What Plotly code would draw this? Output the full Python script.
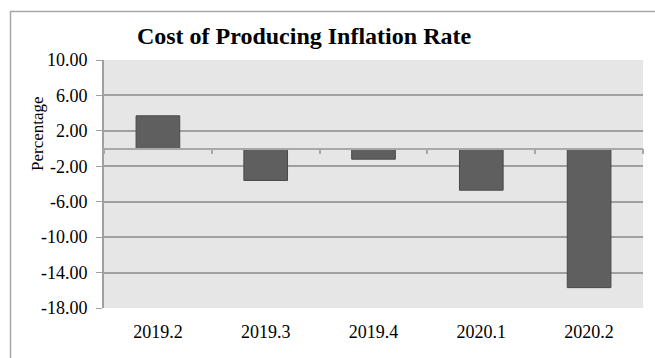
import plotly.graph_objects as go

# ---- data ----
quarters = ["2019.2", "2019.3", "2019.4", "2020.1", "2020.2"]
inflation_rate = [3.7, -3.6, -1.2, -4.7, -15.7]
y_tick_values = [10, 6, 2, -2, -6, -10, -14, -18]
y_tick_labels = ["10.00", "6.00", "2.00", "-2.00", "-6.00", "-10.00", "-14.00", "-18.00"]
chart_title = "Cost of Producing Inflation Rate"
y_title = "Percentage"

W, H = 655, 358
ML, MR, MT, MB = 104, 12, 60, 50
FONT = "Liberation Serif, Times New Roman, serif"
GRID = "#a0a0a0"

fig = go.Figure()
fig.add_trace(go.Bar(
    x=quarters, y=inflation_rate,
    marker=dict(color="#5f5f5f", line=dict(color="#4a4a4a", width=1)),
    showlegend=False, hoverinfo="x+y",
))

y_min, y_max = min(y_tick_values), max(y_tick_values)
zero_pos = (0 - y_min) / (y_max - y_min)

fig.update_layout(
    width=W, height=H,
    margin=dict(l=ML, r=MR, t=MT, b=MB, pad=0),
    paper_bgcolor="white",
    plot_bgcolor="#e6e6e6",
    bargap=0.595,
    font=dict(family=FONT, size=18, color="black"),
    title=dict(
        text="<b>" + chart_title + "</b>",
        font=dict(family=FONT, size=24, color="black"),
        x=304 / W, xanchor="center", xref="container",
        y=1 - 36 / H, yanchor="middle", yref="container",
    ),
    xaxis=dict(
        type="category",
        showgrid=False, zeroline=False, showline=False,
        ticks="", tickfont=dict(family=FONT, size=18),
        ticklabelstandoff=11,
        range=[-0.5, len(quarters) - 0.5],
    ),
    xaxis2=dict(
        overlaying="x", anchor="free", position=zero_pos,
        range=[0, len(quarters)], type="linear",
        tickvals=list(range(len(quarters) + 1)),
        showticklabels=False, ticks="outside", ticklen=5,
        tickcolor="#a8a8a8", tickwidth=1.5,
        showline=True, linecolor="#a8a8a8", linewidth=1.5,
        showgrid=False, zeroline=False,
    ),
    yaxis=dict(
        range=[y_min, y_max],
        tickvals=y_tick_values, ticktext=y_tick_labels,
        showgrid=True, gridcolor=GRID, gridwidth=1.5,
        zeroline=False,
        showline=True, linecolor=GRID, linewidth=2,
        ticks="outside", ticklen=6, tickcolor=GRID, tickwidth=1,
        ticklabelstandoff=5,
        tickfont=dict(family=FONT, size=18),
    ),
)

# dummy invisible trace to activate xaxis2
fig.add_trace(go.Scatter(x=[0], y=[0], xaxis="x2", mode="markers",
                         marker=dict(opacity=0), showlegend=False, hoverinfo="skip"))

fig.add_annotation(
    text=y_title, textangle=-90,
    xref="paper", yref="paper",
    x=(37 - ML) / (W - ML - MR), y=(H - MB - 134) / (H - MT - MB),
    xanchor="center", yanchor="middle", showarrow=False,
    font=dict(family=FONT, size=17, color="black"),
)

# outer chart border (extends beyond the visible window)
pw, ph = W - ML - MR, H - MT - MB
fig.add_shape(type="rect", xref="paper", yref="paper",
              x0=(10.5 - ML) / pw, x1=(W + 20 - ML) / pw,
              y0=(H - MB - (H + 20)) / ph, y1=(H - MB - 11.5) / ph,
              line=dict(color="#a8a8a8", width=1.5), layer="below")

fig.write_html("out.html")
